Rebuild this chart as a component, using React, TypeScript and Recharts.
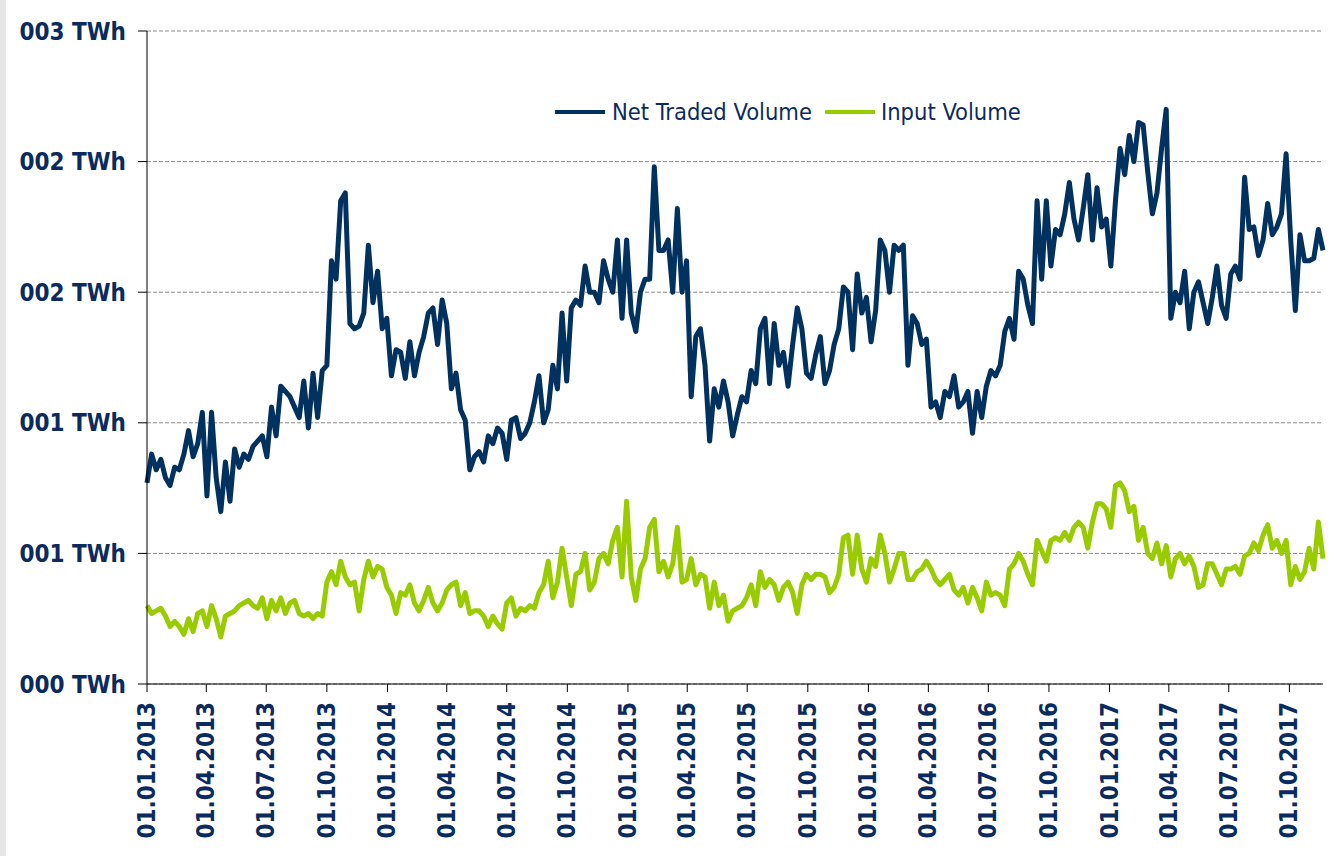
import { LineChart, Line, XAxis, YAxis, CartesianGrid, Legend } from "recharts";

// weekly readings, first week starts 01.01.2013
const START = "2013-01-01";

const quarterLabels = [
  "01.01.2013", "01.04.2013", "01.07.2013", "01.10.2013",
  "01.01.2014", "01.04.2014", "01.07.2014", "01.10.2014",
  "01.01.2015", "01.04.2015", "01.07.2015", "01.10.2015",
  "01.01.2016", "01.04.2016", "01.07.2016", "01.10.2016",
  "01.01.2017", "01.04.2017", "01.07.2017", "01.10.2017",
];

const yTicks = [0, 0.5, 1, 1.5, 2, 2.5];

const netTradedVolume = [
  0.77, 0.88, 0.82, 0.86, 0.79, 0.76, 0.83, 0.82, 0.88, 0.97,
  0.87, 0.92, 1.04, 0.72, 1.04, 0.79, 0.66, 0.85, 0.70, 0.90,
  0.83, 0.88, 0.86, 0.91, 0.93, 0.95, 0.87, 1.06, 0.95, 1.14,
  1.12, 1.10, 1.06, 1.02, 1.16, 0.98, 1.19, 1.02, 1.20, 1.22,
  1.62, 1.55, 1.85, 1.88, 1.38, 1.36, 1.37, 1.42, 1.68, 1.46,
  1.58, 1.36, 1.40, 1.18, 1.28, 1.27, 1.17, 1.31, 1.18, 1.27,
  1.33, 1.42, 1.44, 1.30, 1.47, 1.38, 1.13, 1.19, 1.05, 1.01,
  0.82, 0.87, 0.89, 0.85, 0.95, 0.92, 0.98, 0.96, 0.86, 1.01,
  1.02, 0.94, 0.96, 1.00, 1.08, 1.18, 1.00, 1.05, 1.22, 1.13,
  1.42, 1.16, 1.44, 1.47, 1.45, 1.60, 1.50, 1.50, 1.46, 1.62,
  1.55, 1.50, 1.70, 1.40, 1.70, 1.42, 1.35, 1.50, 1.55, 1.55,
  1.98, 1.66, 1.66, 1.70, 1.50, 1.82, 1.50, 1.62, 1.10, 1.33,
  1.36, 1.22, 0.93, 1.13, 1.06, 1.16, 1.08, 0.95, 1.03, 1.10,
  1.08, 1.20, 1.15, 1.36, 1.40, 1.15, 1.38, 1.22, 1.27, 1.14,
  1.30, 1.44, 1.36, 1.19, 1.17, 1.26, 1.33, 1.15, 1.20, 1.30,
  1.36, 1.52, 1.50, 1.28, 1.57, 1.42, 1.48, 1.31, 1.43, 1.70,
  1.66, 1.50, 1.68, 1.66, 1.68, 1.22, 1.41, 1.38, 1.30, 1.32,
  1.06, 1.08, 1.02, 1.12, 1.10, 1.18, 1.06, 1.08, 1.12, 0.96,
  1.12, 1.02, 1.14, 1.20, 1.18, 1.22, 1.35, 1.40, 1.32, 1.58,
  1.55, 1.45, 1.38, 1.85, 1.55, 1.85, 1.60, 1.74, 1.72, 1.80,
  1.92, 1.78, 1.70, 1.82, 1.95, 1.70, 1.90, 1.75, 1.78, 1.60,
  1.85, 2.05, 1.95, 2.10, 2.00, 2.15, 2.14, 1.96, 1.80, 1.88,
  2.05, 2.20, 1.40, 1.50, 1.46, 1.58, 1.36, 1.50, 1.54, 1.46,
  1.38, 1.48, 1.60, 1.45, 1.40, 1.57, 1.60, 1.55, 1.94, 1.74,
  1.75, 1.64, 1.70, 1.84, 1.72, 1.75, 1.80, 2.03, 1.70, 1.43,
  1.72, 1.62, 1.62, 1.63, 1.74, 1.66,
];

const inputVolume = [
  0.30, 0.27, 0.28, 0.29, 0.26, 0.22, 0.24, 0.22, 0.19, 0.25,
  0.20, 0.27, 0.28, 0.22, 0.30, 0.25, 0.18, 0.26, 0.27, 0.28,
  0.30, 0.31, 0.32, 0.30, 0.29, 0.33, 0.25, 0.32, 0.28, 0.33,
  0.27, 0.31, 0.32, 0.27, 0.26, 0.27, 0.25, 0.27, 0.26, 0.39,
  0.43, 0.38, 0.47, 0.41, 0.38, 0.39, 0.28, 0.40, 0.47, 0.41,
  0.45, 0.44, 0.37, 0.34, 0.27, 0.35, 0.34, 0.38, 0.31, 0.28,
  0.32, 0.37, 0.31, 0.28, 0.31, 0.36, 0.38, 0.39, 0.30, 0.35,
  0.27, 0.28, 0.28, 0.26, 0.22, 0.26, 0.23, 0.21, 0.31, 0.33,
  0.26, 0.29, 0.28, 0.30, 0.29, 0.35, 0.38, 0.47, 0.33, 0.39,
  0.52, 0.41, 0.30, 0.42, 0.43, 0.50, 0.36, 0.39, 0.48, 0.50,
  0.46, 0.55, 0.60, 0.41, 0.70, 0.41, 0.32, 0.44, 0.48, 0.60,
  0.63, 0.43, 0.47, 0.41, 0.46, 0.60, 0.39, 0.40, 0.48, 0.38,
  0.42, 0.41, 0.29, 0.39, 0.30, 0.34, 0.24, 0.28, 0.29, 0.30,
  0.33, 0.38, 0.30, 0.43, 0.37, 0.40, 0.38, 0.32, 0.37, 0.39,
  0.35, 0.27, 0.38, 0.42, 0.40, 0.42, 0.42, 0.41, 0.35, 0.37,
  0.42, 0.56, 0.57, 0.42, 0.57, 0.44, 0.39, 0.48, 0.45, 0.57,
  0.50, 0.39, 0.44, 0.50, 0.50, 0.40, 0.40, 0.43, 0.44, 0.47,
  0.44, 0.40, 0.38, 0.40, 0.42, 0.36, 0.34, 0.37, 0.31, 0.37,
  0.33, 0.28, 0.39, 0.34, 0.35, 0.34, 0.30, 0.44, 0.46, 0.50,
  0.47, 0.42, 0.38, 0.55, 0.51, 0.47, 0.55, 0.56, 0.55, 0.58,
  0.55, 0.60, 0.62, 0.60, 0.52, 0.62, 0.69, 0.69, 0.67, 0.60,
  0.76, 0.77, 0.74, 0.66, 0.68, 0.55, 0.60, 0.50, 0.48, 0.54,
  0.46, 0.53, 0.41, 0.48, 0.50, 0.46, 0.49, 0.45, 0.37, 0.38,
  0.46, 0.46, 0.42, 0.38, 0.44, 0.44, 0.45, 0.42, 0.49, 0.50,
  0.54, 0.51, 0.57, 0.61, 0.52, 0.55, 0.50, 0.55, 0.38, 0.45,
  0.40, 0.43, 0.52, 0.44, 0.62, 0.48,
];

const NAVY = "#00315f";
const GREEN = "#99cc00";
const TEXT = "#0b2b5e";
const FONT = "'DejaVu Sans Condensed', 'DejaVu Sans', sans-serif";
const DAY = 86400000;

const startMs = Date.parse(START);
const parseLabel = (s: string) => {
  const [d, m, y] = s.split(".").map(Number);
  return Date.UTC(y, m - 1, d);
};

const data = netTradedVolume.map((v, i) => ({
  t: startMs + i * 7 * DAY,
  net: v,
  input: inputVolume[i],
}));

const pad = (n: number) => String(n).padStart(2, "0");
const fmtDate = (ms: number) => {
  const d = new Date(ms);
  return `${pad(d.getUTCDate())}.${pad(d.getUTCMonth() + 1)}.${d.getUTCFullYear()}`;
};

const XTick = ({ x, y, payload }: any) => (
  <text
    x={x}
    y={y}
    transform={`rotate(-90, ${x}, ${y})`}
    textAnchor="end"
    dominantBaseline="central"
    fill={TEXT}
    fontSize={24}
    fontWeight="bold"
    fontFamily={FONT}
  >
    {fmtDate(payload.value)}
  </text>
);

const LegendBox = () => (
  <div style={{ display: "flex", alignItems: "center", fontFamily: FONT, fontSize: 23.5, color: TEXT, height: 30 }}>
    <span style={{ display: "inline-block", width: 50, height: 4, background: NAVY, marginRight: 7 }} />
    <span style={{ marginRight: 13 }}>Net Traded Volume</span>
    <span style={{ display: "inline-block", width: 50, height: 4, background: GREEN, marginRight: 6 }} />
    <span>Input Volume</span>
  </div>
);

export default function App() {
  return (
    <div style={{ position: "absolute", left: 0, top: 0, width: 1339, height: 856, background: "#fff" }}>
      <div style={{ position: "absolute", left: 0, top: 0, width: 6, height: 856, background: "#e6e6e6" }} />
      <LineChart
        width={1339}
        height={856}
        data={data}
        margin={{ top: 31, right: 16, bottom: 0, left: 0 }}
      >
        <CartesianGrid vertical={false} stroke="#8a8a8a" strokeDasharray="4 2" />
        <XAxis
          type="number"
          dataKey="t"
          domain={[startMs, startMs + (netTradedVolume.length - 1) * 7 * DAY]}
          ticks={quarterLabels.map(parseLabel)}
          interval={0}
          tick={<XTick />}
          tickSize={8}
          tickMargin={10}
          height={172}
          stroke="#000"
        />
        <YAxis
          type="number"
          domain={[0, 2.5]}
          ticks={yTicks}
          interval={0}
          tickFormatter={(v: number) => `${String(Math.round(v)).padStart(3, "0")} TWh`}
          width={147}
          tickSize={9}
          tickMargin={12}
          stroke="#000"
          tick={{ fill: TEXT, fontSize: 24, fontWeight: "bold", fontFamily: FONT }}
        />
        <Legend
          layout="horizontal"
          verticalAlign="middle"
          align="center"
          wrapperStyle={{ top: 97, left: 555, width: "auto" }}
          content={<LegendBox />}
        />
        <Line
          type="linear"
          dataKey="net"
          name="Net Traded Volume"
          stroke={NAVY}
          strokeWidth={5}
          strokeLinejoin="round"
          dot={false}
          isAnimationActive={false}
        />
        <Line
          type="linear"
          dataKey="input"
          name="Input Volume"
          stroke={GREEN}
          strokeWidth={5}
          strokeLinejoin="round"
          dot={false}
          isAnimationActive={false}
        />
      </LineChart>
    </div>
  );
}
